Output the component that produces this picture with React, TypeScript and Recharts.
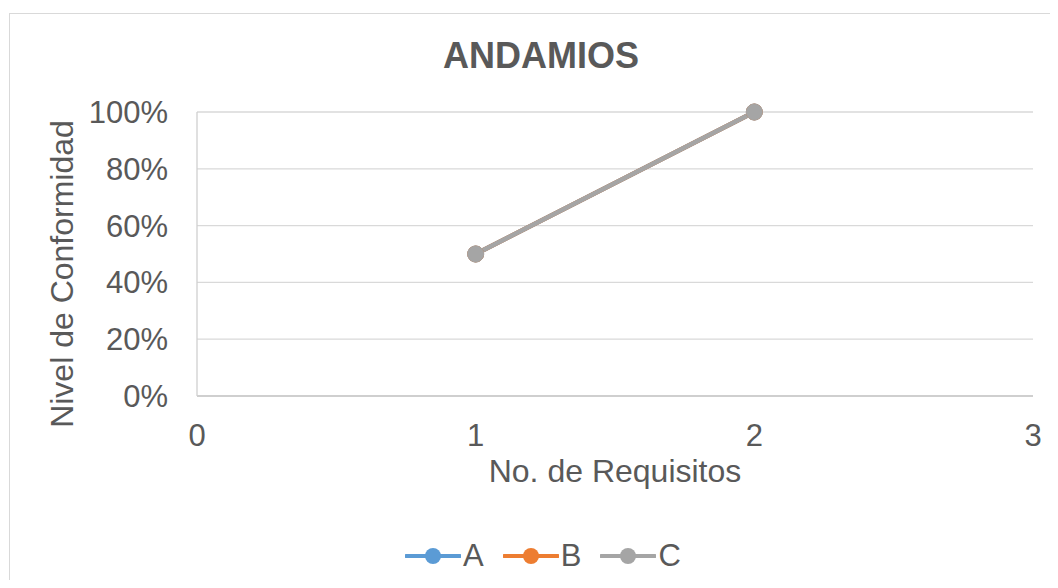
import React from 'react'
import { LineChart, Line, XAxis, YAxis, CartesianGrid, Label } from 'recharts'

// requirement number on the x axis, conformity level per series
const requisitos = [1, 2]
const serieA = [0.5, 1]
const serieB = [0.5, 1]
const serieC = [0.5, 1]
const xTicks = [0, 1, 2, 3]
const yTicks = [0, 0.2, 0.4, 0.6, 0.8, 1]

const series = [
  { key: 'A', color: '#5B9BD5', values: serieA },
  { key: 'B', color: '#ED7D31', values: serieB },
  { key: 'C', color: '#A5A5A5', values: serieC },
]

const data = requisitos.map((req, i) => ({
  req,
  A: serieA[i],
  B: serieB[i],
  C: serieC[i],
}))

const FONT = '"Liberation Sans", Arial, sans-serif'
const TEXT = '#595959'

const W = 1042
const H = 572

function LegendRow() {
  return (
    <div
      style={{
        position: 'absolute',
        top: 534,
        left: 14,
        width: W,
        display: 'flex',
        justifyContent: 'center',
        gap: 19,
        fontFamily: FONT,
        fontSize: 31,
        color: TEXT,
      }}
    >
      {series.map((s) => (
        <div key={s.key} style={{ display: 'flex', alignItems: 'center', gap: 2 }}>
          <svg width={56} height={28}>
            <line x1={1} y1={14} x2={55} y2={14} stroke={s.color} strokeWidth={4} strokeLinecap="round" />
            <circle cx={28} cy={14} r={8} fill={s.color} />
          </svg>
          <span style={{ lineHeight: '28px' }}>{s.key}</span>
        </div>
      ))}
    </div>
  )
}

export default function App() {
  return (
    <div style={{ position: 'relative', width: W, height: H, overflow: 'hidden', background: '#fff' }}>
      {/* chart frame */}
      <div
        style={{
          position: 'absolute',
          left: 1,
          top: 5,
          width: 1200,
          height: 800,
          border: '1px solid #D9D9D9',
        }}
      />
      <svg style={{ position: 'absolute', left: 0, top: 0 }} width={W} height={80}>
        <text
          x={533}
          y={60}
          textAnchor="middle"
          fontFamily={FONT}
          fontSize={36}
          fontWeight="bold"
          fill={TEXT}
        >
          ANDAMIOS
        </text>
      </svg>
      <div style={{ position: 'absolute', left: 0, top: 0 }}>
        <LineChart
          width={W}
          height={H}
          data={data}
          margin={{ top: 104, right: 17, bottom: 124, left: 0 }}
        >
          <CartesianGrid vertical={false} stroke="#D9D9D9" strokeWidth={1.3} />
          <XAxis
            dataKey="req"
            type="number"
            domain={[0, 3]}
            ticks={xTicks}
            height={60}
            tickSize={0}
            tickMargin={28}
            axisLine={{ stroke: '#C8C8C8', strokeWidth: 1.3 }}
            tick={{ fill: TEXT, fontSize: 31, fontFamily: FONT }}
          >
            <Label
              content={({ viewBox }: any) => (
                <text
                  x={viewBox.x + viewBox.width / 2}
                  y={viewBox.y + 86}
                  textAnchor="middle"
                  fontFamily={FONT}
                  fontSize={32}
                  fill={TEXT}
                >
                  No. de Requisitos
                </text>
              )}
            />
          </XAxis>
          <YAxis
            type="number"
            domain={[0, 1]}
            ticks={yTicks}
            width={189}
            tickSize={0}
            tickMargin={29}
            axisLine={{ stroke: '#D0D0D0', strokeWidth: 1.3 }}
            tickFormatter={(v: number) => `${Math.round(v * 100)}%`}
            tick={{ fill: TEXT, fontSize: 31, fontFamily: FONT }}
          >
            <Label
              content={({ viewBox }: any) => {
                const cx = viewBox.x + 65
                const cy = viewBox.y + viewBox.height / 2 + 20
                return (
                  <text
                    x={cx}
                    y={cy}
                    transform={`rotate(-90 ${cx} ${cy})`}
                    textAnchor="middle"
                    fontFamily={FONT}
                    fontSize={32}
                    fill={TEXT}
                  >
                    Nivel de Conformidad
                  </text>
                )
              }}
            />
          </YAxis>
          {series.map((s) => (
            <Line
              key={s.key}
              dataKey={s.key}
              type="linear"
              stroke={s.color}
              strokeWidth={4.5}
              dot={{ r: 8, fill: s.color, stroke: s.color, strokeWidth: 1 }}
              isAnimationActive={false}
            />
          ))}
        </LineChart>
      </div>
      <LegendRow />
    </div>
  )
}
